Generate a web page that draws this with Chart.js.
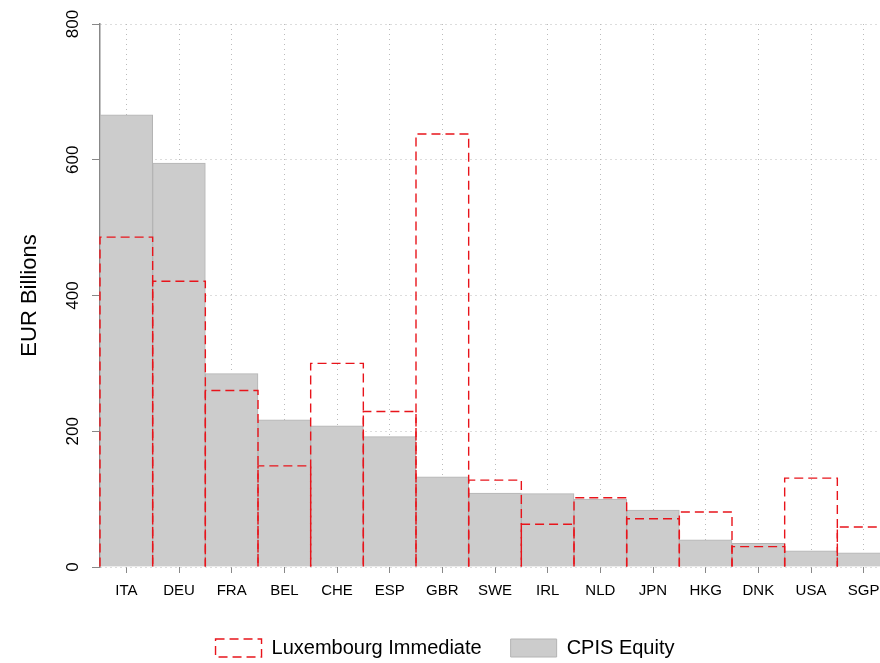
<!DOCTYPE html>
<html>
<head>
<script src="https://cdn.jsdelivr.net/npm/chart.js@4"></script>
<style>
  body { margin: 0; overflow: hidden; background: #fff; }
  #wrap { width: 890px; height: 663px; }
</style>
</head>
<body>
<div id="wrap"><canvas id="chart"></canvas></div>
<script>
const paesi = ["ITA", "DEU", "FRA", "BEL", "CHE", "ESP", "GBR", "SWE", "IRL", "NLD", "JPN", "HKG", "DNK", "USA", "SGP"];
const cpisEquity = [666, 595, 285, 217, 208, 192, 133, 109, 108, 100, 84, 40, 35, 24, 21];
const luxImmediate = [486, 421, 260, 149, 300, 229, 638, 128, 63, 102, 71, 81, 30, 131, 59];
const yTicks = [0, 200, 400, 600, 800];

const fontFam = "Helvetica, 'Liberation Sans', Arial, sans-serif";

// contorni tratteggiati e etichette ruotate dell'asse y
const disegnaExtra = {
    id: "disegnaExtra",
    afterDatasetsDraw(chart) {
        const ctx = chart.ctx;
        const meta = chart.getDatasetMeta(0);
        ctx.save();
        ctx.strokeStyle = "#e8141b";
        ctx.lineWidth = 1.4;
        ctx.setLineDash([9, 5]);
        meta.data.forEach(bar => {
            const left = bar.x - bar.width / 2;
            ctx.beginPath();
            ctx.moveTo(left, bar.base);
            ctx.lineTo(left, bar.y);
            ctx.lineTo(left + bar.width, bar.y);
            ctx.lineTo(left + bar.width, bar.base);
            ctx.stroke();
        });
        ctx.restore();

        const y = chart.scales.y;
        ctx.save();
        ctx.fillStyle = "#000";
        ctx.font = "17px " + fontFam;
        ctx.textAlign = "center";
        ctx.textBaseline = "bottom";
        yTicks.forEach(v => {
            ctx.save();
            ctx.translate(y.right - 18, y.getPixelForValue(v));
            ctx.rotate(-Math.PI / 2);
            ctx.fillText(String(v), 0, 0);
            ctx.restore();
        });
        ctx.font = "22px " + fontFam;
        ctx.translate(30, (chart.chartArea.top + chart.chartArea.bottom) / 2);
        ctx.rotate(-Math.PI / 2);
        ctx.textBaseline = "middle";
        ctx.fillText("EUR Billions", 0, 0);
        ctx.restore();
    }
};

new Chart(document.getElementById("chart"), {
    type: "bar",
    data: {
        labels: paesi,
        datasets: [{
            label: "Luxembourg Immediate",
            data: luxImmediate,
            backgroundColor: "rgba(0,0,0,0)",
            borderWidth: 0,
            grouped: false,
            categoryPercentage: 1,
            barPercentage: 1,
            order: 0
        }, {
            label: "CPIS Equity",
            data: cpisEquity,
            backgroundColor: "#cccccc",
            borderColor: "#b4b4b4",
            borderWidth: 1,
            grouped: false,
            categoryPercentage: 1,
            barPercentage: 1,
            order: 1
        }]
    },
    options: {
        responsive: true,
        maintainAspectRatio: false,
        animation: false,
        layout: { padding: { top: 24, right: 0, bottom: -5 } },
        plugins: {
            tooltip: { enabled: false },
            legend: {
                position: "bottom",
                labels: {
                    font: { size: 20, family: fontFam },
                    color: "#000",
                    boxWidth: 46,
                    boxHeight: 18,
                    padding: 29,
                    generateLabels: () => [
                        { text: "Luxembourg Immediate", fillStyle: "#fff", strokeStyle: "#e8141b", lineWidth: 1.4, lineDash: [9, 5], datasetIndex: 0 },
                        { text: "CPIS Equity", fillStyle: "#cccccc", strokeStyle: "#b4b4b4", lineWidth: 1, datasetIndex: 1 }
                    ]
                }
            }
        },
        scales: {
            x: {
                offset: true,
                grid: { offset: false, color: "#bbb", drawTicks: true, tickLength: 6, tickColor: "#888" },
                border: { display: false, dash: [1, 4] },
                ticks: { color: "#000", font: { size: 15, family: fontFam }, padding: 9 }
            },
            y: {
                min: 0,
                max: 800,
                afterFit: s => { s.width = 100; },
                ticks: { stepSize: 200, display: false },
                grid: { color: "#bbb", tickLength: 8, tickColor: "#888" },
                border: { display: true, color: "#888", width: 1.5, dash: [1, 4] }
            }
        }
    },
    plugins: [disegnaExtra]
});
</script>
</body>
</html>
